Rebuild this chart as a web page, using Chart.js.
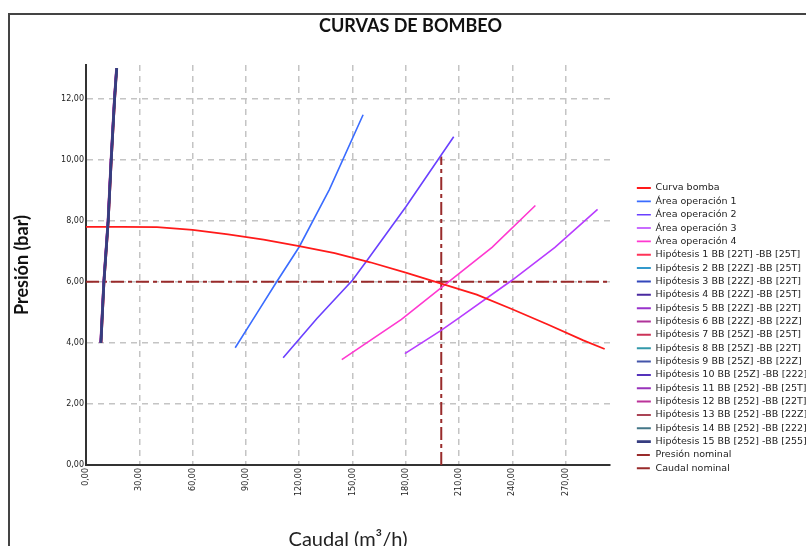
<!DOCTYPE html>
<html lang="es">
<head>
<meta charset="UTF-8">
<title>Curvas de bombeo</title>
<script src="https://cdn.jsdelivr.net/npm/chart.js"></script>
<style>
    body { margin: 0; background: #fff; }
    canvas { display: block; }
</style>
</head>
<body>
<canvas id="bombeo" width="806" height="546"></canvas>
<script>
// Ejes
const xMax = 295;
const yMax = 13.1;
const xTicks = [0, 30, 60, 90, 120, 150, 180, 210, 240, 270];
const yTicks = [0, 2, 4, 6, 8, 10, 12];

// Curva de la bomba: caudal (m3/h) / presion (bar)
const bombaQ = [0, 20, 40, 60, 80, 100, 120, 140, 160, 180, 200, 220, 240, 260, 280, 292];
const bombaP = [7.80, 7.80, 7.79, 7.70, 7.55, 7.38, 7.17, 6.94, 6.64, 6.30, 5.94, 5.58, 5.10, 4.60, 4.08, 3.80];

// Areas de operacion
const area1Q = [84, 96, 107, 120, 137, 156];
const area1P = [3.84, 4.95, 5.97, 7.14, 9.02, 11.47];
const area2Q = [111, 130, 150, 158.5, 180, 207];
const area2P = [3.51, 4.80, 6.05, 6.72, 8.45, 10.75];
const area3Q = [179.5, 199.5, 210, 239.8, 264, 288];
const area3P = [3.65, 4.39, 4.82, 6.05, 7.13, 8.37];
const area4Q = [144, 177.6, 205, 228.6, 253];
const area4P = [3.45, 4.77, 6.04, 7.13, 8.5];

// Hipotesis (todas comparten las mismas presiones)
const hipP = [4.0, 6.0, 8.0, 10.0, 12.0, 13.0];
const hipQ = [
    [8.6, 10.3, 12.7, 14.4, 16.3, 17.4],
    [8.4, 10.1, 12.5, 14.2, 16.1, 17.3],
    [8.3, 10.0, 12.4, 14.1, 16.0, 17.2],
    [8.4, 10.1, 12.5, 14.2, 16.1, 17.3],
    [8.2, 9.9, 12.3, 14.0, 15.9, 17.1],
    [8.1, 9.8, 12.2, 13.9, 15.8, 17.0],
    [8.6, 10.3, 12.7, 14.4, 16.3, 17.4],
    [8.4, 10.1, 12.5, 14.2, 16.1, 17.3],
    [8.3, 10.0, 12.4, 14.1, 16.0, 17.2],
    [8.4, 10.1, 12.5, 14.2, 16.1, 17.3],
    [8.3, 10.0, 12.4, 14.1, 16.0, 17.2],
    [8.2, 9.9, 12.3, 14.0, 15.9, 17.1],
    [8.5, 10.2, 12.6, 14.3, 16.2, 17.4],
    [8.4, 10.1, 12.5, 14.2, 16.1, 17.3],
    [8.4, 10.1, 12.5, 14.2, 16.1, 17.3]
];
const hipLabels = [
    'Hipótesis 1 BB [22T] -BB [25T]',
    'Hipótesis 2 BB [22Z] -BB [25T]',
    'Hipótesis 3 BB [22Z] -BB [22T]',
    'Hipótesis 4 BB [22Z] -BB [25T]',
    'Hipótesis 5 BB [22Z] -BB [22T]',
    'Hipótesis 6 BB [22Z] -BB [22Z]',
    'Hipótesis 7 BB [25Z] -BB [25T]',
    'Hipótesis 8 BB [25Z] -BB [22T]',
    'Hipótesis 9 BB [25Z] -BB [22Z]',
    'Hipótesis 10 BB [25Z] -BB [222]',
    'Hipótesis 11 BB [252] -BB [25T]',
    'Hipótesis 12 BB [252] -BB [22T]',
    'Hipótesis 13 BB [252] -BB [22Z]',
    'Hipótesis 14 BB [252] -BB [222]',
    'Hipótesis 15 BB [252] -BB [255]'
];
const hipColors = ['#ff3358', '#3399cc', '#3347bb', '#4a2aa0', '#9933cc', '#b03399',
                   '#cc3358', '#3399aa', '#4455aa', '#5533bb', '#9933bb', '#bb3399',
                   '#aa4455', '#447788', '#363d80'];

// Punto nominal
const presionNominal = 6;
const caudalNominal = 200;
const caudalNominalP = [0, 10.1];

const puntos = (qs, ps) => qs.map((q, i) => ({ x: q, y: ps[i] }));

function serie(label, data, color, extra) {
    return Object.assign({
        label: label,
        data: data,
        borderColor: color,
        backgroundColor: color,
        borderWidth: 1.6,
        pointRadius: 0,
        showLine: true,
        tension: 0
    }, extra || {});
}

const datasets = [
    serie('Curva bomba', puntos(bombaQ, bombaP), '#ff1a1a', { borderWidth: 1.8 }),
    serie('Área operación 1', puntos(area1Q, area1P), '#3a6cff'),
    serie('Área operación 2', puntos(area2Q, area2P), '#6a40ff'),
    serie('Área operación 3', puntos(area3Q, area3P), '#b83cff'),
    serie('Área operación 4', puntos(area4Q, area4P), '#ff38d0')
];
hipLabels.forEach((label, i) => {
    const ultima = i === hipLabels.length - 1;
    datasets.push(serie(label, puntos(hipQ[i], hipP), hipColors[i],
        { borderWidth: ultima ? 2.8 : 2, order: -1 - i }));
});
datasets.push(serie('Presión nominal', puntos([0, xMax], [presionNominal, presionNominal]), '#992b2b',
    { borderWidth: 2, borderDash: [13, 4, 4, 4] }));
datasets.push(serie('Caudal nominal', puntos([caudalNominal, caudalNominal], caudalNominalP), '#992b2b',
    { borderWidth: 2, borderDash: [13, 4, 4, 4] }));

const coma = v => Number(v).toFixed(2).replace('.', ',');

// marco exterior y ajuste fino de leyenda / titulo
const ajustes = {
    id: 'ajustes',
    beforeDraw(chart) {
        const ctx = chart.ctx;
        ctx.save();
        ctx.strokeStyle = '#444';
        ctx.lineWidth = 2;
        ctx.strokeRect(9, 14, chart.width + 40, chart.height + 40);
        ctx.restore();
    },
    afterUpdate(chart) {
        const lg = chart.legend;
        lg.left += 23;
        lg.right = chart.width;
        lg.top += 114.4;
        lg.bottom += 114.4;
        chart.titleBlock.left += 61;
    }
};

Chart.defaults.font.family = 'Lato, sans-serif';
Chart.defaults.color = '#222';

new Chart(document.getElementById('bombeo'), {
    type: 'scatter',
    data: { datasets: datasets },
    options: {
        responsive: false,
        animation: false,
        events: [],
        layout: { padding: { left: 0, right: 46, top: 0, bottom: 0 } },
        scales: {
            x: {
                type: 'linear',
                min: 0,
                max: xMax,
                afterBuildTicks: s => { s.ticks = xTicks.map(v => ({ value: v })); },
                ticks: {
                    minRotation: 90,
                    maxRotation: 90,
                    padding: 3,
                    color: '#222',
                    font: { family: 'DejaVu Sans', size: 8 },
                    callback: coma
                },
                grid: { color: '#c4c4c4', lineWidth: 1.5, drawTicks: false },
                border: { display: true, color: '#333', width: 2, dash: [6, 5] },
                title: {
                    display: true,
                    text: 'Caudal (m³/h)',
                    color: '#222',
                    font: { family: 'Lato', size: 20, lineHeight: 0.6 },
                    padding: { top: 35, bottom: 0 }
                }
            },
            y: {
                type: 'linear',
                min: 0,
                max: yMax,
                afterBuildTicks: s => { s.ticks = yTicks.map(v => ({ value: v })); },
                ticks: {
                    padding: 2,
                    color: '#222',
                    font: { family: 'DejaVu Sans', size: 8 },
                    callback: coma
                },
                grid: { color: '#c4c4c4', lineWidth: 1.5, drawTicks: false },
                border: { display: true, color: '#333', width: 2, dash: [6, 5] },
                title: {
                    display: true,
                    text: 'Presión (bar)',
                    color: '#111',
                    font: { family: 'Lato', size: 18, weight: 'bold', lineHeight: 1 },
                    padding: { top: 13.5, bottom: 27.6 }
                }
            }
        },
        plugins: {
            title: {
                display: true,
                text: 'CURVAS DE BOMBEO',
                color: '#111',
                font: { family: 'Lato', size: 18, weight: 'bold' },
                padding: { top: 15, bottom: 28.4 }
            },
            legend: {
                position: 'right',
                align: 'start',
                fullSize: false,
                maxWidth: 150,
                labels: {
                    boxWidth: 14,
                    boxHeight: 0,
                    padding: 3.85,
                    color: '#222',
                    font: { family: 'DejaVu Sans', size: 9.5 },
                    sort: (a, b) => a.datasetIndex - b.datasetIndex
                }
            },
            tooltip: { enabled: false }
        }
    },
    plugins: [ajustes]
});
</script>
</body>
</html>
